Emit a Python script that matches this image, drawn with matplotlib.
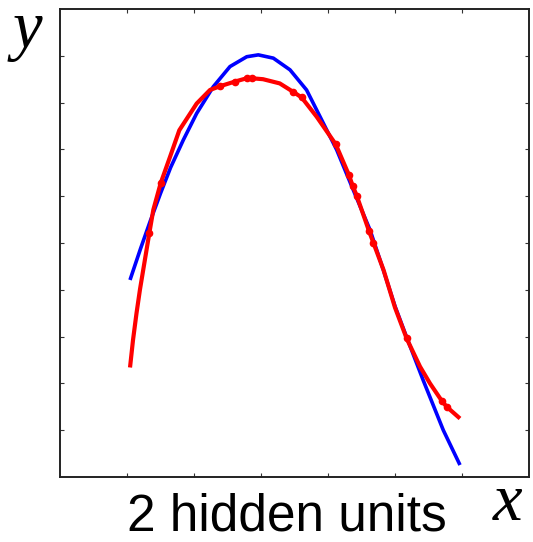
import matplotlib
matplotlib.use("Agg")
import matplotlib.pyplot as plt

# target function (blue)
blue_x = [1.045, 1.2, 1.35, 1.5, 1.65, 1.84, 2.04, 2.288, 2.537, 2.787, 2.96,
          3.184, 3.433, 3.68, 3.881, 4.13, 4.378, 4.627, 4.82, 5.0, 5.17,
          5.42, 5.721, 5.97]
blue_y = [4.21, 4.87, 5.48, 6.06, 6.61, 7.20, 7.77, 8.34, 8.77, 8.98, 9.02,
          8.95, 8.70, 8.27, 7.70, 6.99, 6.13, 5.28, 4.45, 3.65, 3.00,
          2.07, 1.00, 0.256]

# network fit (red)
red_x = [1.045, 1.09, 1.142, 1.194, 1.333, 1.393, 1.503, 1.642, 1.781, 2.04,
         2.239, 2.388, 2.612, 2.787, 2.861, 3.03, 3.28, 3.48, 3.607, 3.83,
         4.115, 4.313, 4.369, 4.429, 4.612, 4.676, 4.83, 5.0, 5.174, 5.373,
         5.522, 5.697, 5.772, 5.97]
red_y = [2.34, 2.93, 3.50, 4.01, 5.21, 5.71, 6.28, 6.84, 7.41, 7.98,
         8.27, 8.35, 8.45, 8.52, 8.52, 8.50, 8.41, 8.23, 8.11, 7.70,
         7.11, 6.45, 6.22, 6.01, 5.257, 5.01, 4.42, 3.62, 2.96, 2.36,
         2.00, 1.63, 1.50, 1.25]

# training points on the fit
pts_x = [1.333, 1.503, 2.388, 2.612, 2.787, 2.861, 3.48, 3.607, 4.115, 4.313,
         4.369, 4.429, 4.612, 4.676, 5.174, 5.697, 5.772]
pts_y = [5.21, 6.28, 8.35, 8.45, 8.52, 8.52, 8.23, 8.11, 7.11, 6.45,
         6.22, 6.01, 5.257, 5.01, 2.96, 1.63, 1.50]

fig = plt.figure(figsize=(5.33, 5.42), dpi=100)
ax = fig.add_axes([60 / 533, 65 / 542, 469 / 533, 468 / 542])

ax.plot(blue_x, blue_y, color="#0000ff", linewidth=2.6, solid_capstyle="butt",
        solid_joinstyle="round")
ax.plot(red_x, red_y, color="#ff0000", linewidth=3.0, solid_capstyle="butt",
        solid_joinstyle="round")
ax.plot(pts_x, pts_y, "o", color="#ff0000", markersize=4.5)

ax.set_xlim(0, 7)
ax.set_ylim(0, 10)
ax.set_xticks(range(1, 7))
ax.set_yticks(range(1, 10))
ax.set_xticklabels([])
ax.set_yticklabels([])
ax.tick_params(direction="in", length=3, width=0.8, top=True, right=True, color="#333333")
for s in ax.spines.values():
    s.set_linewidth(1.4)
    s.set_color("#222222")

fig.text(287 / 533, 0.5 / 542, "2 hidden units", ha="center", va="bottom",
         fontsize=37, family="Liberation Sans")
fig.text(493 / 533, 22 / 542, "x", ha="left", va="baseline", fontsize=48,
         family="Liberation Serif", style="italic")
fig.text(13 / 533, 494 / 542, "y", ha="left", va="baseline", fontsize=48,
         family="Liberation Serif", style="italic")

fig.savefig("out.png", dpi=100)
